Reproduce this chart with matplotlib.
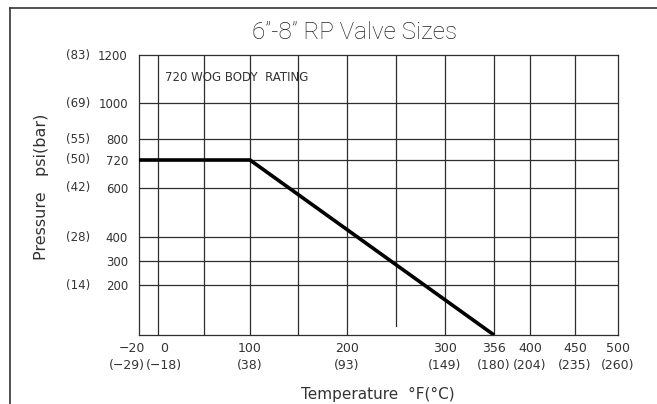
import matplotlib.pyplot as plt
import numpy as np
from matplotlib.lines import Line2D
from matplotlib.transforms import ScaledTranslation

# Rating curve (degF, psi)
temp_f = [-20, 100, 356]
pressure_psi = [720, 720, 0]

# Axis ticks and their metric equivalents
x_ticks = [-20, 0, 100, 200, 300, 356, 400, 450, 500]
x_labels_c = ["(−29)", "(−18)", "(38)", "(93)", "(149)", "(180)", "(204)", "(235)", "(260)"]
y_ticks = [200, 300, 400, 600, 720, 800, 1000, 1200]
y_labels_bar = ["(14)", "", "(28)", "(42)", "(50)", "(55)", "(69)", "(83)"]

# Grid lines drawn in the chart
x_grid = [0, 50, 100, 150, 200, 300, 356, 400, 450]
y_grid = [200, 300, 400, 600, 720, 800, 1000]

# The drawing is not to scale: spacing of the grid as drawn
x_knots = [-20, 0, 50, 100, 150, 200, 250, 300, 356, 400, 450, 500]
x_drawn = [0, 19, 65, 111, 159, 208, 257, 306, 355, 391, 436, 479]
y_knots = [0, 200, 300, 400, 600, 720, 800, 1000, 1200]
y_drawn = [0, 50, 74, 98, 147, 175, 196, 232, 280]


def piecewise(src, dst):
    src = np.asarray(src, float)
    dst = np.asarray(dst, float)

    def f(v):
        v = np.asarray(v, float)
        out = np.interp(v, src, dst)
        lo = v < src[0]
        hi = v > src[-1]
        out = np.where(lo, dst[0] + (v - src[0]) * (dst[1] - dst[0]) / (src[1] - src[0]), out)
        out = np.where(hi, dst[-1] + (v - src[-1]) * (dst[-1] - dst[-2]) / (src[-1] - src[-2]), out)
        return out
    return f


INK = "#333333"
GRID = "#2e2e2e"

fig = plt.figure(figsize=(6.57, 4.04), dpi=100)
ax = fig.add_axes([139 / 657, 1 - 335 / 404, 479 / 657, 280 / 404])

ax.set_xscale("function", functions=(piecewise(x_knots, x_drawn), piecewise(x_drawn, x_knots)))
ax.set_yscale("function", functions=(piecewise(y_knots, y_drawn), piecewise(y_drawn, y_knots)))
ax.set_xlim(-20, 500)
ax.set_ylim(0, 1200)

for xv in x_grid:
    ax.axvline(xv, color=GRID, lw=0.9, zorder=1)
# the 250 line stops short of the bottom in the drawing
ax.axvline(250, ymin=0.032, color=GRID, lw=0.9, zorder=1)
for yv in y_grid:
    ax.axhline(yv, color=GRID, lw=0.9, zorder=1)

ax.plot(temp_f, pressure_psi, color="black", lw=2.6, solid_capstyle="butt", zorder=3)

for s in ax.spines.values():
    s.set_color(GRID)
    s.set_linewidth(0.9)

ax.set_xticks(x_ticks)
ax.set_xticklabels([f"{t}".replace("-", "−") + "\n" + c for t, c in zip(x_ticks, x_labels_c)],
                   fontsize=9, color=INK, linespacing=1.4)
ax.set_yticks(y_ticks)
ax.set_yticklabels([str(v) for v in y_ticks], fontsize=8.5, color=INK)
ax.tick_params(axis="both", length=0)
ax.tick_params(axis="x", pad=5)
ax.tick_params(axis="y", pad=8)
ax.minorticks_off()

# first two x labels sit apart from each other in the drawing
xl = ax.get_xticklabels()
xl[0].set_horizontalalignment("right")
xl[0].set_multialignment("right")
xl[0].set_transform(xl[0].get_transform() + ScaledTranslation(6 / 100, 0, fig.dpi_scale_trans))
xl[1].set_transform(xl[1].get_transform() + ScaledTranslation(6 / 100, 0, fig.dpi_scale_trans))

tr = ax.get_yaxis_transform()
for yv, lab in zip(y_ticks, y_labels_bar):
    if lab:
        ax.text(-0.102, yv, lab, transform=tr, ha="right", va="center", fontsize=8.5, color=INK)

ax.text(0.054, 0.918, "720 WOG BODY  RATING", transform=ax.transAxes, ha="left", va="center",
        fontsize=8.5, color=INK)

fig.text(355 / 657, 1 - 32 / 404, "6”-8” RP Valve Sizes", ha="center", va="center",
         fontsize=17.5, color="#222222", family="Roboto", fontweight="light")
fig.text(42 / 657, 1 - 187 / 404, "Pressure   psi(bar)", rotation=90, ha="center", va="center",
         fontsize=11.5, color=INK)
fig.text(378 / 657, 1 - 394 / 404, "Temperature  °F(°C)", ha="center", va="center",
         fontsize=11, color=INK)

# drawing frame (top and left edges)
fig.add_artist(Line2D([9.5 / 657, 1], [1 - 8 / 404] * 2, transform=fig.transFigure, color=INK, lw=1.2))
fig.add_artist(Line2D([9.5 / 657] * 2, [0, 1 - 8 / 404], transform=fig.transFigure, color=INK, lw=1.2))

plt.savefig("out.png", dpi=100)
